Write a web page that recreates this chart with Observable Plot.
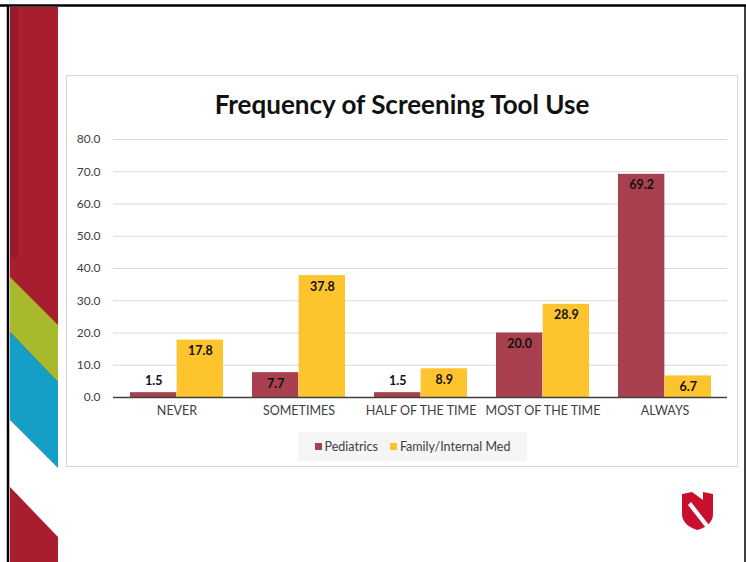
<!DOCTYPE html>
<html><head><meta charset="utf-8">
<script src="https://cdn.jsdelivr.net/npm/d3@7"></script>
<script src="https://cdn.jsdelivr.net/npm/@observablehq/plot@0.6"></script>
<style>
html,body{margin:0;padding:0;background:#fff;}
#slide{position:relative;width:746px;height:562px;overflow:hidden;background:#fff;font-family:Lato,"Open Sans",sans-serif;}
#deco{position:absolute;left:0;top:0;}
#box{position:absolute;left:66px;top:75px;width:672px;height:392px;border:1px solid #d6d6d6;box-sizing:border-box;background:#fff;}
#title{position:absolute;left:66px;top:88px;width:672px;text-align:center;font-weight:700;font-size:26px;color:#111;line-height:32px;}
#chart{position:absolute;left:66px;top:125px;}
#legend{position:absolute;left:298px;top:432px;width:229px;height:29px;background:#f5f5f5;display:flex;align-items:center;justify-content:center;gap:12px;font-size:12.5px;color:#404040;}
#legend span.sw{display:inline-block;width:7px;height:7px;margin-right:3px;vertical-align:middle;position:relative;top:-1px;}
</style></head>
<body>
<div id="slide">
<svg id="deco" width="746" height="562">
  <rect x="10" y="7" width="48" height="560" fill="#a81e2f"/>
  <rect x="10" y="7" width="8" height="250" fill="#8f1a28" opacity="0.7"/>
  <polygon points="10,277 58,325 58,382 10,332" fill="#a8b92c"/>
  <polygon points="10,332 58,382 58,468 10,420" fill="#14a0c6"/>
  <polygon points="10,420 58,468 58,537 10,487" fill="#ffffff"/>
  <line x1="0" y1="5.5" x2="746" y2="5.5" stroke="#000" stroke-width="2.5"/>
  <line x1="8" y1="5" x2="8" y2="562" stroke="#000" stroke-width="2.5"/>
  <line x1="745" y1="5" x2="745" y2="562" stroke="#000" stroke-width="1.5"/>
  <path d="M682 494 L692 492 L703 500 L703 492 L713 494 L713 514 Q713 525 697.5 530 Q682 525 682 514 Z" fill="#c8102e"/>
  <polygon points="688,505 691,502 709,525 706,528" fill="#ffffff"/>
</svg>
<div id="box"></div>
<div id="title">Frequency of Screening Tool Use</div>
<div id="chart"></div>
<div id="legend">
  <div><span class="sw" style="background:#a8404f"></span>Pediatrics</div>
  <div><span class="sw" style="background:#fec42d"></span>Family/Internal Med</div>
</div>
</div>
<script>
const categories = ["NEVER", "SOMETIMES", "HALF OF THE TIME", "MOST OF THE TIME", "ALWAYS"];
const pediatrics = [1.5, 7.7, 1.5, 20.0, 69.2];
const familyInternalMed = [17.8, 37.8, 8.9, 28.9, 6.7];
const seriesNames = ["Pediatrics", "Family/Internal Med"];
const seriesColors = ["#a8404f", "#fec42d"];
const yTicks = [0, 10, 20, 30, 40, 50, 60, 70, 80];

const ped = categories.map((c, i) => ({cat: c, value: pediatrics[i], series: seriesNames[0]}));
const fam = categories.map((c, i) => ({cat: c, value: familyInternalMed[i], series: seriesNames[1]}));
const half = 46.65;
const fmt = d => d.toFixed(1);

const chart = Plot.plot({
  width: 671,
  height: 300,
  marginLeft: 47,
  marginRight: 10,
  marginTop: 14,
  marginBottom: 28,
  style: {fontFamily: "Lato, 'Open Sans', sans-serif", color: "#404040", background: "transparent"},
  x: {domain: categories, paddingInner: 0.24, paddingOuter: 0.12, label: null},
  y: {domain: [0, 80], label: null},
  marks: [
    Plot.ruleY(yTicks.filter(d => d > 0), {stroke: "#d9d9d9", strokeWidth: 1}),
    Plot.barY(ped, {x: "cat", y: "value", fill: seriesColors[0], insetRight: half}),
    Plot.barY(fam, {x: "cat", y: "value", fill: seriesColors[1], insetLeft: half}),
    Plot.ruleY([0], {stroke: "#404040", strokeWidth: 1.3}),
    Plot.text(ped.filter(d => d.value >= 3), {x: "cat", y: "value", text: d => fmt(d.value), dx: -23.3, dy: 11, fontWeight: 700, fontSize: 12.5, fill: "#111"}),
    Plot.text(ped.filter(d => d.value < 3), {x: "cat", y: "value", text: d => fmt(d.value), dx: -23.3, dy: -12, fontWeight: 700, fontSize: 12.5, fill: "#111"}),
    Plot.text(fam, {x: "cat", y: "value", text: d => fmt(d.value), dx: 23.3, dy: 11, fontWeight: 700, fontSize: 12.5, fill: "#111"}),
    Plot.axisY({ticks: yTicks, tickFormat: fmt, tickSize: 0, tickPadding: 13, fontSize: 12, label: null}),
    Plot.axisX({tickSize: 0, tickPadding: 9, fontSize: 12.5, label: null})
  ]
});
document.getElementById("chart").appendChild(chart);
</script>
</body></html>
